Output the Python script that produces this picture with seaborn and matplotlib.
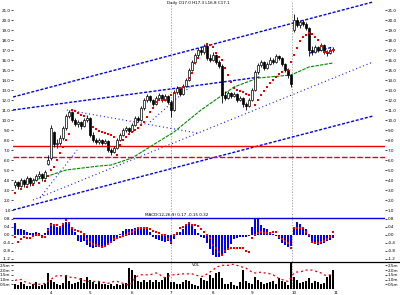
import matplotlib
matplotlib.use("Agg")
import numpy as np
import pandas as pd
import seaborn as sns
import matplotlib.pyplot as plt
from matplotlib.lines import Line2D

sns.set_theme(style="white")
plt.rcParams["font.family"] = ["DejaVu Sans"]
plt.rcParams["lines.scale_dashes"] = False

# ---------------- data ----------------
opens = [3.5, 3.8, 3.4, 4.0, 3.6, 4.2, 3.7, 4.0, 4.4, 4.6, 4.2, 5.6, 6.2, 8.8, 7.6, 7.7, 8.2, 9.2, 10.4, 10.8,
         10.0, 9.6, 9.8, 9.4, 10.0, 10.2, 8.5, 8.0, 7.8, 8.0, 7.7, 7.9, 7.0, 6.8, 7.2, 8.0, 8.5, 9.0, 9.2, 8.9,
         9.5, 10.2, 10.0, 11.2, 12.0, 12.4, 12.0, 11.6, 12.2, 12.5, 12.0, 12.4, 11.8, 11.0, 12.8, 13.2, 12.6, 13.4, 14.0, 15.0,
         15.8, 16.5, 17.0, 16.8, 17.4, 16.2, 16.0, 16.5, 15.8, 15.4, 12.5, 12.2, 12.7, 12.4, 12.6, 12.0, 12.2, 11.6, 11.4, 12.0,
         13.0, 14.8, 15.5, 15.8, 15.2, 15.6, 16.0, 15.8, 16.4, 16.2, 15.6, 15.0, 14.5, 19.0, 20.0, 19.5, 19.8, 19.6, 19.2, 17.0,
         16.8, 17.3, 17.0, 17.5, 16.8, 16.7, 17.0]
highs = [4.0, 3.9, 4.2, 4.1, 4.4, 4.3, 4.2, 4.6, 4.9, 4.7, 5.0, 6.5, 9.5, 8.9, 8.1, 8.5, 9.4, 10.6, 11.0, 10.9,
         10.2, 10.0, 9.9, 10.2, 10.5, 10.3, 8.8, 8.2, 8.2, 8.1, 8.1, 8.0, 7.2, 7.4, 8.2, 8.7, 9.2, 9.4, 9.3, 9.7,
         10.4, 10.4, 11.4, 12.2, 12.6, 12.5, 12.1, 12.4, 12.7, 12.6, 12.6, 12.5, 12.0, 13.0, 13.4, 13.3, 13.6, 14.2, 15.2, 16.0,
         16.7, 17.2, 17.3, 17.6, 17.5, 16.6, 16.8, 16.6, 16.0, 15.6, 12.9, 12.9, 12.8, 12.8, 12.7, 12.4, 12.3, 11.8, 12.2, 13.2,
         15.0, 15.7, 16.0, 15.9, 15.8, 16.3, 16.2, 16.6, 16.5, 16.3, 15.7, 15.2, 14.6, 20.6, 20.3, 20.0, 20.0, 19.8, 19.3, 17.4,
         17.5, 17.4, 17.7, 17.6, 17.0, 17.2, 17.3]
lows = [3.2, 3.1, 3.3, 3.3, 3.5, 3.4, 3.6, 3.9, 4.2, 3.9, 4.1, 5.5, 6.0, 7.3, 7.2, 7.5, 8.0, 9.0, 10.2, 9.8,
        9.4, 9.3, 9.1, 9.3, 9.8, 8.3, 7.8, 7.6, 7.6, 7.5, 7.6, 6.8, 6.5, 6.7, 7.1, 7.9, 8.4, 8.8, 8.7, 8.8,
        9.4, 9.8, 9.9, 11.0, 11.8, 11.8, 11.4, 11.5, 12.0, 11.8, 11.9, 11.6, 10.3, 10.9, 12.6, 12.4, 12.5, 13.3, 13.9, 14.9,
        15.6, 16.3, 16.5, 16.6, 16.0, 15.8, 15.9, 15.6, 15.2, 11.7, 12.0, 12.1, 12.2, 12.3, 11.8, 11.9, 11.3, 11.0, 11.3, 11.9,
        12.9, 14.6, 15.3, 15.0, 15.1, 15.5, 15.6, 15.7, 16.0, 15.4, 14.8, 14.2, 13.3, 18.8, 19.3, 19.2, 19.4, 19.0, 16.4, 16.5,
        16.7, 16.8, 16.9, 16.6, 16.4, 16.6, 16.8]
closes = [3.8, 3.4, 4.0, 3.6, 4.2, 3.7, 4.0, 4.4, 4.6, 4.2, 4.8, 6.0, 9.2, 7.6, 7.7, 8.2, 9.2, 10.4, 10.8, 10.0,
          9.6, 9.8, 9.4, 10.0, 10.2, 8.5, 8.0, 7.8, 8.0, 7.7, 7.9, 7.0, 6.8, 7.2, 8.0, 8.5, 9.0, 9.2, 8.9, 9.5,
          10.2, 10.0, 11.2, 12.0, 12.4, 12.0, 11.6, 12.2, 12.5, 12.0, 12.4, 11.8, 11.0, 12.8, 13.2, 12.6, 13.4, 14.0, 15.0, 15.8,
          16.5, 17.0, 16.8, 17.4, 16.2, 16.0, 16.5, 15.8, 15.4, 12.5, 12.2, 12.7, 12.4, 12.6, 12.0, 12.2, 11.6, 11.4, 12.0, 13.0,
          14.8, 15.5, 15.8, 15.2, 15.6, 16.0, 15.8, 16.4, 16.2, 15.6, 15.0, 14.5, 13.6, 20.0, 19.5, 19.8, 19.6, 19.2, 17.0, 16.8,
          17.3, 17.0, 17.5, 16.8, 16.7, 17.0, 17.1]

ma_idx = [0, 9, 17, 28, 32, 39, 46, 53, 62, 73, 81, 92, 98, 106]
ma_val = [3.5, 4.2, 5.0, 5.4, 5.5, 6.2, 7.5, 8.8, 11.0, 13.3, 14.2, 14.5, 15.3, 15.7]

sar_idx = [0, 2, 4, 6, 8, 10, 11, 12, 13, 14, 15, 16, 17, 18,
           19, 20, 21, 22, 23, 26, 27, 28, 29, 30, 31, 32, 33,
           34, 35, 36, 37, 38, 39, 40, 41, 42, 43, 44, 45, 46, 47, 48, 49, 50, 52, 53, 55, 56, 58, 59, 60, 61,
           64, 65, 66, 67, 68, 69, 70, 71, 72, 73, 74, 75, 76, 77, 78,
           80, 81, 82, 83, 84, 85, 86, 87, 88, 89,
           91, 92, 93, 94, 95, 96, 97, 98, 99, 100, 101, 102, 103, 104, 105, 106]
sar_val = [2.7, 3.1, 3.3, 3.5, 3.7, 3.9, 4.4, 5.0, 5.3, 6.0, 6.7, 7.3, 8.0, 8.6,
           11.0, 10.9, 10.7, 10.5, 10.4, 9.3, 9.1, 8.9, 8.8, 8.7, 8.6, 8.5, 8.3,
           6.5, 7.5, 8.0, 8.3, 8.6, 8.8, 9.0, 9.2, 9.5, 9.8, 10.3, 10.8, 11.2, 11.8, 12.0, 12.0, 12.0, 12.5, 12.7, 13.2, 13.3, 14.2, 14.7, 15.7, 16.2,
           17.6, 17.5, 17.3, 16.7, 16.3, 16.0, 15.2, 14.5, 13.8, 13.2, 13.0, 12.9, 12.8, 12.6, 12.5,
           11.5, 12.0, 12.5, 12.9, 13.3, 13.7, 14.0, 14.3, 14.6, 14.8,
           15.0, 15.8, 16.5, 17.2, 17.9, 18.3, 18.5, 18.7, 18.6, 18.3, 18.0, 17.4, 16.8, 16.8, 16.9, 17.0]

# trend lines: (x0, y0, x1, y1) in bar index / price
channel_lines = [(-0.67, 12.3, 119.3, 21.8), (-0.67, 1.0, 119.3, 10.4), (-0.67, 11.0, 81.7, 14.3), (98.3, 16.7, 106.0, 17.3)]
dotted_lines = [(17.3, 11.0, 60.7, 8.7), (6.0, 2.0, 119.3, 15.8), (8.3, 2.2, 20.7, 7.0), (45.0, 9.8, 59.0, 13.5)]
support_solid = 7.4
support_dashed = 6.3
marker_bars = [52, 92.3]

hist = [0.6, 0.3, 0.3, 0.25, 0.15, 0.1, 0.1, 0.15, 0.1, -0.05, 0.1, 0.35, 0.6, 0.5, 0.4, 0.45, 0.55, 0.65, 0.55, 0.35,
        0.15, -0.3, -0.35, -0.3, -0.5, -0.6, -0.65, -0.6, -0.55, -0.6, -0.5, -0.45, -0.35, -0.3, -0.15, 0.05, 0.2, 0.3, 0.3, 0.3,
        0.35, 0.3, 0.35, 0.4, 0.35, 0.15, -0.1, -0.2, -0.25, -0.3, -0.35, -0.3, -0.45, -0.2, 0.05, 0.15, 0.3, 0.45, 0.6, 0.5,
        0.3, 0.1, -0.1, -0.15, -0.4, -0.7, -1.0, -1.1, -1.1, -1.05, -0.9, -0.7, -0.45, -0.2, -0.15, -0.1, -0.1, -0.1, -0.05, 0.4,
        0.85, 0.85, 0.5, 0.35, 0.3, 0.15, 0.05, -0.05, -0.2, -0.4, -0.5, -0.6, -0.55, 0.3, 0.65, 0.55, 0.4, 0.3, -0.1, -0.3,
        -0.45, -0.5, -0.45, -0.4, -0.3, -0.25, -0.15]
signal = [-0.1, -0.35, -0.2, -0.1, -0.15, -0.15, -0.05, 0.0, 0.0, -0.1, -0.1, 0.25, 0.5, 0.5, 0.5, 0.4, 0.55, 0.75, 0.6, 0.35,
          0.25, 0.2, 0.15, 0.05, -0.2, -0.35, -0.45, -0.5, -0.55, -0.6, -0.55, -0.45, -0.35, -0.2, -0.15, -0.1, -0.05, 0.0, 0.1, 0.15,
          0.25, 0.35, 0.35, 0.35, 0.35, 0.3, 0.2, 0.15, 0.1, 0.0, 0.0, -0.2, -0.35, 0.0, 0.1, 0.35, 0.4, 0.5, 0.6, 0.5,
          0.5, 0.45, 0.3, 0.15, 0.0, -0.15, -0.5, -0.65, -0.85, -1.0, -0.8, -0.7, -0.65, -0.65, -0.65, -0.65, -0.65, -0.8, -0.85, -0.15,
          0.0, 0.1, 0.15, 0.1, 0.1, 0.1, 0.15, 0.15, -0.1, -0.2, -0.3, -0.4, -0.65, 0.35, 0.35, 0.35, 0.35, 0.15, 0.0, -0.35,
          -0.4, -0.4, -0.35, -0.3, -0.2, -0.1, 0.15]
macd_level = 0.85

volume = [0.5, 0.4, 0.7, 0.5, 0.3, 0.3, 0.5, 0.7, 0.3, 0.4, 0.5, 1.7, 1.0, 0.7, 0.5, 0.4, 0.6, 1.5, 0.8, 0.5,
          0.6, 0.7, 1.2, 0.6, 1.3, 1.0, 0.7, 0.5, 0.7, 0.5, 0.5, 0.4, 0.5, 0.3, 0.5, 0.4, 0.5, 0.6, 2.2, 2.0,
          1.5, 0.8, 0.7, 1.0, 0.7, 1.0, 0.7, 1.0, 0.7, 1.0, 1.3, 1.7, 0.7, 0.7, 0.5, 0.5, 0.7, 1.0, 0.8, 0.5,
          0.4, 0.3, 1.2, 1.0, 0.8, 1.5, 1.2, 1.7, 1.8, 1.2, 0.5, 0.5, 0.7, 0.4, 0.3, 0.7, 2.0, 0.8, 0.6, 0.5,
          1.3, 1.0, 0.7, 0.5, 0.6, 0.7, 0.8, 0.5, 1.2, 0.8, 0.7, 0.4, 2.7, 1.3, 1.0, 0.6, 0.7, 0.8, 1.2, 0.6,
          0.8, 0.7, 0.5, 0.6, 1.3, 1.5, 2.0]
vol_ma = [0.9, 1.0, 1.0, 0.8, 0.7, 0.6, 0.5, 0.5, 0.5, 0.5, 0.6, 0.8, 1.0, 1.3, 1.4, 1.4, 1.4, 1.4, 1.3, 1.2,
          1.2, 1.1, 1.0, 0.9, 0.8, 0.8, 0.8, 0.8, 0.8, 0.7, 0.7, 0.6, 0.7, 0.8, 0.8, 0.7, 0.6, 0.5, 0.4, 0.6,
          1.2, 1.4, 1.5, 1.5, 1.5, 1.5, 1.6, 1.7, 1.6, 1.3, 1.2, 1.3, 1.5, 1.5, 1.5, 1.6, 1.6, 1.6, 1.6, 1.6,
          1.5, 1.4, 1.3, 1.4, 1.6, 1.8, 2.0, 2.3, 2.4, 2.5, 2.5, 2.5, 2.6, 2.6, 2.5, 2.4, 2.3, 2.2, 2.0, 1.8,
          1.7, 1.7, 1.8, 1.7, 1.7, 1.6, 1.5, 1.3, 1.1, 1.0, 0.9, 0.8, 1.2, 1.7, 1.8, 1.8, 1.9, 2.0, 2.0, 2.0,
          1.9, 1.8, 1.7, 1.5, 1.4, 1.5, 1.5]

x_tick_pos = [12, 25, 39, 52, 66, 79, 93, 107]
x_tick_lab = ["4", "5", "6", "7", "8", "9", "10", "11"]
title_text = "Daily O17.0 H17.3 L16.8 C17.1"
macd_text = "MACD(12,26,9) 0.17 -0.15 0.32"
vol_text = "VOL"

# ---------------- figure ----------------
W, H = 400, 295
fig = plt.figure(figsize=(W / 100, H / 100), dpi=100)
fig.patch.set_facecolor("white")
L = 13 / W
Wd = 372 / W
FS = 3.0

def fy(py):
    return 1 - py / H

ax = fig.add_axes([L, fy(212), Wd, 211 / H])
axm = fig.add_axes([L, fy(262), Wd, 49 / H])
axv = fig.add_axes([L, fy(289), Wd, 26 / H])

n = len(closes)
idx = np.arange(n)
df = pd.DataFrame({"i": idx, "o": opens, "h": highs, "l": lows, "c": closes,
                   "hist": hist, "sig": signal, "vol": volume, "vma": vol_ma})

xlim = (-0.67, 123.33)
for a in (ax, axm, axv):
    a.set_xlim(*xlim)
    a.set_facecolor("white")
    for s in a.spines.values():
        s.set_visible(False)
    a.yaxis.set_ticks_position("both")
    a.tick_params(axis="y", which="both", labelleft=True, labelright=True, left=True, right=True,
                  labelsize=FS, length=1.2, width=0.5, pad=0.6, colors="black")
    a.tick_params(axis="x", labelsize=FS, length=1.2, width=0.5, pad=0.3, colors="black")
    for b in marker_bars:
        a.axvline(b, color="#aaaaaa", lw=0.7, ls=(0, (1, 1)), zorder=0)

# ---- main price panel ----
ax.set_ylim(0.8, 21.9)
pt = np.arange(1, 22, 1.0)
ax.set_yticks(pt)
ax.set_yticklabels([f"{v:.1f}" for v in pt])
ax.set_xticks([])

for (x0, y0, x1, y1) in channel_lines:
    ax.plot([x0, x1], [y0, y1], color="#0000ee", lw=1.0, ls=(0, (2.2, 1.2)), zorder=2)
for (x0, y0, x1, y1) in dotted_lines:
    ax.plot([x0, x1], [y0, y1], color="#0000ee", lw=0.8, ls=(0, (0.7, 2.0)), zorder=2)

ax.axhline(support_solid, color="#ee0000", lw=1.0, zorder=2)
ax.axhline(support_dashed, color="#ee0000", lw=1.0, ls=(0, (4, 1.5)), zorder=2)

sns.lineplot(x=ma_idx, y=ma_val, ax=ax, color="#008800", lw=0.8, zorder=3)
ax.lines[-1].set_linestyle((0, (2.5, 0.8)))

up = df["c"] >= df["o"]
ax.vlines(df["i"], df["l"], df["h"], color="black", lw=0.6, zorder=4)
body_bottom = np.minimum(df["o"], df["c"])
body_h = np.maximum(np.abs(df["c"] - df["o"]), 0.08)
ax.bar(df["i"][up], body_h[up], bottom=body_bottom[up], width=0.65, color="white",
       edgecolor="black", linewidth=0.5, zorder=5)
ax.bar(df["i"][~up], body_h[~up], bottom=body_bottom[~up], width=0.65, color="black",
       edgecolor="black", linewidth=0.5, zorder=5)

sns.scatterplot(x=sar_idx, y=sar_val, ax=ax, color="#ee0000", s=1.8, linewidth=0, marker="s", zorder=6)
ax.set_xlabel("")
ax.set_ylabel("")
fig.text(167 / W, fy(3), title_text, fontsize=FS, ha="left", va="center", color="black")

# ---- MACD panel ----
axm.set_ylim(-1.35, 1.1)
mt = [0.8, 0.4, 0.0, -0.4, -0.8, -1.2]
axm.set_yticks(mt)
axm.set_yticklabels([f"{v:.1f}" for v in mt])
axm.set_xticks([])
axm.axhline(macd_level, color="#0000dd", lw=1.0, zorder=1)
axm.bar(df["i"], df["hist"], width=0.55, color="#0000ee", linewidth=0, zorder=2)
sns.scatterplot(data=df, x="i", y="sig", ax=axm, color="#ee0000", s=1.8, linewidth=0, marker="s", zorder=3)
axm.set_xlabel("")
axm.set_ylabel("")
fig.text(145 / W, fy(215.5), macd_text, fontsize=FS, ha="left", va="center", color="black")

# ---- volume panel ----
axv.set_ylim(0, 2.75)
vt = [0.5, 1.0, 1.5, 2.0, 2.5]
axv.set_yticks(vt)
axv.set_yticklabels([f"{v:.1f}m" for v in vt])
axv.bar(df["i"], df["vol"], width=0.55, color="black", linewidth=0, zorder=2)
axv.plot(df["i"], df["vma"], color="#ee0000", lw=0.9, ls=(0, (1.5, 2.0)), zorder=3)
axv.set_xticks(x_tick_pos)
axv.set_xticklabels(x_tick_lab)
axv.set_xlabel("")
axv.set_ylabel("")
fig.text(192 / W, fy(265), vol_text, fontsize=FS, ha="left", va="center", color="black")

# separator line between indicator and volume panels
fig.add_artist(Line2D([0, 1], [fy(262), fy(262)], color="black", lw=0.9, transform=fig.transFigure))

fig.savefig("out.png", dpi=100, facecolor="white")
